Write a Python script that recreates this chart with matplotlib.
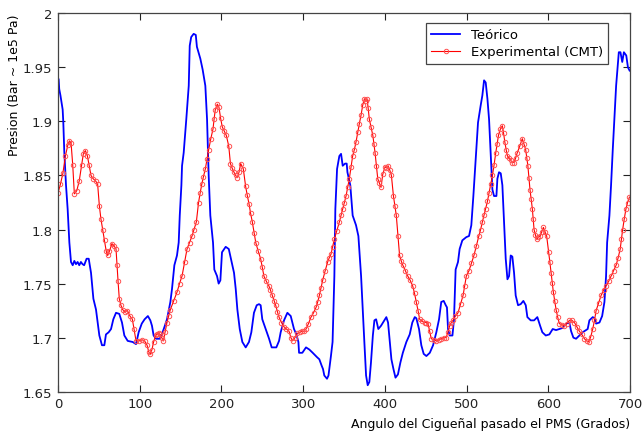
import matplotlib
matplotlib.use('Agg')
import matplotlib.pyplot as plt

# Teorico (blue)
teo_x = [0, 0.8, 1.5, 3, 5.7, 6.5, 7.7, 9.8, 11.8, 13.9, 15.9, 18, 20, 22, 24, 26, 28, 30, 32, 35,
         37.6, 40.4, 43.3, 46.5, 48.5, 50.6, 53.8, 56.7, 58.7, 62, 64.9, 67.7, 71, 75, 78.3, 81.2,
         85.3, 91.4, 95.5, 98.7, 102.5, 106, 110, 113, 115, 117, 120, 124.6, 127, 129.4, 133.4,
         137.5, 139.5, 142.4, 145.6, 147.7, 149, 151, 151.8, 153.8, 157, 160, 161.2, 163, 166,
         168.6, 170, 174.2, 177, 180.3, 182.4, 184.4, 186.4, 189.7, 191.3, 194.6, 196.6, 198.7,
         200.7, 205.2, 209, 212.5, 215.4, 217.5, 219.5, 222.4, 225.6, 229.7, 233.7, 236.6, 239.8,
         243.2, 246, 248, 250, 254.2, 258.3, 261.5, 267.2, 270.5, 272.5, 276.6, 280.7, 284.8,
         288.8, 291.7, 294.2, 295, 299, 303.5, 307.6, 311.7, 316.9, 319.8, 322.7, 324.3, 325.9,
         329.2, 331, 334, 336, 338.2, 339.4, 341.5, 344.3, 346.4, 348.4, 351.3, 353.3, 354.2,
         357.7, 360.6, 364.7, 367.6, 370.9, 372.9, 374.9, 377, 379, 381, 383, 385.3, 387.2,
         389.3, 392, 395.3, 399.4, 401.8, 403.9, 406, 408, 410.5, 413, 416, 419, 422, 426.3,
         430.4, 433.6, 436.6, 438.5, 441.8, 444.6, 447.5, 450.8, 455, 459, 463, 466.3, 469, 472,
         474.5, 476, 477.3, 479.3, 482.7, 484.6, 486.6, 489.5, 491.5, 494.8, 499.7, 503, 505.8,
         508.3, 511.2, 514, 517.3, 519.3, 521.4, 523.4, 525.5, 527.5, 529.6, 531.6, 533.6, 536.5,
         537.7, 539.7, 541.8, 543.8, 545.9, 547.9, 550, 552, 554, 556, 558.1, 560.1, 563, 566.2,
         569.5, 572.4, 574.4, 578.5, 582.6, 586.6, 590, 592.7, 596.9, 601.3, 605.4, 609.5, 613.5,
         617.6, 621.7, 625.8, 627.9, 630.7, 634, 638, 642.1, 646.2, 648.2, 650.3, 654.4, 656.5,
         658.5, 662.6, 665.9, 668.7, 670.7, 672, 674.8, 676.8, 678.9, 680.9, 683, 685, 686.3,
         688.3, 690.5, 692.5, 695.4, 697.5, 699.5]
teo_y = [1.940, 1.939, 1.930, 1.924, 1.911, 1.899, 1.872, 1.841, 1.819, 1.788, 1.770, 1.767, 1.771,
         1.768, 1.770, 1.767, 1.770, 1.768, 1.767, 1.773, 1.773, 1.760, 1.736, 1.726, 1.714, 1.702,
         1.693, 1.693, 1.703, 1.705, 1.708, 1.717, 1.723, 1.722, 1.714, 1.702, 1.697, 1.696, 1.694,
         1.705, 1.713, 1.717, 1.720, 1.716, 1.711, 1.702, 1.699, 1.699, 1.703, 1.708, 1.717, 1.733,
         1.745, 1.767, 1.776, 1.788, 1.813, 1.841, 1.859, 1.871, 1.902, 1.933, 1.970, 1.978, 1.981,
         1.980, 1.969, 1.958, 1.948, 1.933, 1.902, 1.850, 1.813, 1.788, 1.763, 1.757, 1.750, 1.753,
         1.779, 1.784, 1.782, 1.770, 1.760, 1.745, 1.726, 1.708, 1.696, 1.691, 1.696, 1.705, 1.723,
         1.730, 1.731, 1.730, 1.717, 1.708, 1.699, 1.691, 1.691, 1.697, 1.705, 1.716, 1.723, 1.720,
         1.708, 1.703, 1.696, 1.686, 1.686, 1.691, 1.689, 1.686, 1.682, 1.680, 1.674, 1.671, 1.665,
         1.662, 1.665, 1.683, 1.696, 1.757, 1.819, 1.856, 1.868, 1.870, 1.859, 1.861, 1.861, 1.853,
         1.841, 1.813, 1.804, 1.794, 1.757, 1.726, 1.696, 1.665, 1.656, 1.659, 1.677, 1.702, 1.716,
         1.717, 1.708, 1.711, 1.716, 1.719, 1.714, 1.696, 1.680, 1.671, 1.663, 1.666, 1.677, 1.686,
         1.696, 1.703, 1.714, 1.719, 1.718, 1.708, 1.693, 1.685, 1.683, 1.686, 1.693, 1.705, 1.717,
         1.733, 1.734, 1.730, 1.728, 1.708, 1.702, 1.702, 1.717, 1.763, 1.770, 1.782, 1.790, 1.793,
         1.794, 1.804, 1.831, 1.865, 1.899, 1.915, 1.924, 1.938, 1.936, 1.921, 1.902, 1.868, 1.837,
         1.831, 1.831, 1.847, 1.853, 1.852, 1.841, 1.807, 1.773, 1.754, 1.757, 1.776, 1.775, 1.760,
         1.739, 1.730, 1.731, 1.734, 1.730, 1.719, 1.716, 1.716, 1.719, 1.711, 1.705, 1.702, 1.703,
         1.708, 1.707, 1.708, 1.709, 1.713, 1.714, 1.706, 1.700, 1.699, 1.702, 1.705, 1.707, 1.708,
         1.716, 1.719, 1.718, 1.713, 1.714, 1.720, 1.733, 1.757, 1.788, 1.813, 1.841, 1.874, 1.902,
         1.933, 1.952, 1.964, 1.964, 1.955, 1.964, 1.961, 1.950, 1.947]

# Experimental (CMT) (red)
exp_x = [0, 3, 6, 9, 12, 14, 16, 18, 20, 23, 26, 29, 31, 33.5, 36, 38, 40.4, 43, 46, 48.5, 50.6,
         52.5, 54.7, 57, 59, 60.8, 63, 66, 68.5, 71, 72.2, 73.5, 75, 77, 79, 82, 85, 88, 91, 93,
         95.5, 99, 103, 106, 109, 111, 113, 115, 117, 119.5, 121, 123, 125, 127, 129, 131, 133.4,
         135.5, 137.5, 141.5, 145.6, 148.7, 151.8, 155, 157.9, 161, 164, 166.5, 169.3, 172, 174,
         176, 178, 180.3, 182.4, 184.4, 187, 189.7, 191, 192.5, 195, 197, 199, 201, 203.5, 206,
         209, 211, 213, 215.4, 217.5, 219.4, 221.5, 223.6, 226.8, 229.6, 231.5, 233.7, 235.7,
         237.8, 240, 242, 245, 248, 250, 252, 255, 258, 260, 262.3, 264.5, 266.4, 268.5, 270.5,
         273.5, 276.6, 279.5, 282.7, 285, 287, 290, 292.9, 296, 299, 301, 303.5, 306.5, 309.6,
         312.7, 315.8, 317.8, 319.8, 321.8, 323.9, 327, 330, 332, 334, 336, 338.2, 341.2, 344.3,
         346.3, 348.4, 350.5, 352.5, 354.5, 356.5, 358.6, 360.6, 362.7, 364.7, 366.8, 368.8,
         370.9, 372.9, 375, 376.6, 378.2, 379.6, 381, 383, 385.3, 386.7, 388, 389.7, 391.3,
         393.3, 395.3, 397.4, 400.2, 402, 404, 406, 408, 410.5, 412.3, 414, 416, 418, 420, 422,
         425, 428, 431, 434, 436.3, 438.5, 440.6, 442.6, 445.6, 448.7, 450.8, 452.8, 454.8,
         456.8, 460, 463, 466, 469, 472, 475, 477.2, 479.3, 481.4, 483.4, 486.4, 489.5, 492.6,
         495.7, 497.7, 499.7, 503, 506, 509, 512, 515, 517.2, 519.3, 521.3, 523.4, 525.5, 527.5,
         529.6, 531.6, 533.7, 535.7, 537.4, 539, 541.4, 543.8, 545.3, 546.8, 548.4, 550, 552,
         554, 556, 558, 560, 562, 565, 568.2, 570.3, 572.3, 573.7, 575, 576.3, 577.6, 579, 580.5,
         581.5, 582.6, 584.2, 585.8, 588, 590, 592, 594, 596, 598, 600.5, 601.9, 603.4, 604.8,
         606.2, 607.8, 609.5, 611.5, 613.5, 616.6, 619.7, 622.7, 625.8, 628.9, 632, 635, 638,
         641, 644.2, 647, 649.5, 652, 654.4, 656.5, 658.5, 661.5, 664.6, 667.6, 670.7, 673.8,
         676.8, 679.9, 683, 685.5, 688, 689.5, 691, 693, 695, 697, 699.3]
exp_y = [1.834, 1.842, 1.852, 1.868, 1.878, 1.882, 1.880, 1.860, 1.833, 1.836, 1.845, 1.860, 1.870,
         1.873, 1.868, 1.860, 1.850, 1.847, 1.845, 1.842, 1.822, 1.810, 1.800, 1.790, 1.780, 1.776,
         1.780, 1.787, 1.785, 1.782, 1.767, 1.752, 1.736, 1.730, 1.726, 1.724, 1.725, 1.720, 1.717,
         1.708, 1.697, 1.697, 1.698, 1.697, 1.693, 1.687, 1.685, 1.689, 1.696, 1.702, 1.703, 1.704,
         1.703, 1.700, 1.697, 1.705, 1.714, 1.720, 1.726, 1.734, 1.742, 1.750, 1.757, 1.770, 1.782,
         1.788, 1.794, 1.800, 1.807, 1.825, 1.834, 1.842, 1.849, 1.856, 1.865, 1.874, 1.884, 1.893,
         1.902, 1.911, 1.916, 1.913, 1.903, 1.895, 1.891, 1.887, 1.877, 1.861, 1.857, 1.853, 1.850,
         1.848, 1.853, 1.861, 1.856, 1.840, 1.832, 1.824, 1.815, 1.807, 1.797, 1.788, 1.780, 1.773,
         1.765, 1.757, 1.752, 1.748, 1.744, 1.739, 1.734, 1.730, 1.724, 1.719, 1.714, 1.710, 1.708,
         1.706, 1.700, 1.697, 1.700, 1.704, 1.705, 1.706, 1.706, 1.708, 1.713, 1.719, 1.723, 1.728,
         1.733, 1.739, 1.746, 1.753, 1.762, 1.770, 1.774, 1.777, 1.784, 1.791, 1.799, 1.807, 1.813,
         1.819, 1.825, 1.831, 1.839, 1.847, 1.858, 1.868, 1.874, 1.881, 1.890, 1.898, 1.906, 1.915,
         1.921, 1.919, 1.921, 1.912, 1.902, 1.895, 1.887, 1.879, 1.871, 1.859, 1.847, 1.843, 1.839,
         1.851, 1.858, 1.857, 1.859, 1.855, 1.850, 1.831, 1.822, 1.813, 1.794, 1.776, 1.771, 1.767,
         1.762, 1.757, 1.753, 1.748, 1.741, 1.733, 1.725, 1.717, 1.715, 1.714, 1.714, 1.713, 1.706,
         1.699, 1.698, 1.697, 1.698, 1.699, 1.700, 1.700, 1.705, 1.711, 1.714, 1.716, 1.720, 1.723,
         1.731, 1.739, 1.748, 1.757, 1.762, 1.769, 1.776, 1.785, 1.794, 1.800, 1.807, 1.813, 1.819,
         1.826, 1.834, 1.842, 1.850, 1.860, 1.871, 1.879, 1.887, 1.893, 1.896, 1.889, 1.881, 1.874,
         1.868, 1.866, 1.864, 1.862, 1.862, 1.866, 1.871, 1.877, 1.884, 1.879, 1.874, 1.866, 1.859,
         1.848, 1.837, 1.828, 1.819, 1.810, 1.800, 1.795, 1.791, 1.793, 1.794, 1.798, 1.802, 1.798,
         1.794, 1.779, 1.770, 1.760, 1.751, 1.742, 1.734, 1.726, 1.719, 1.713, 1.712, 1.711, 1.713,
         1.716, 1.716, 1.714, 1.710, 1.706, 1.703, 1.699, 1.697, 1.696, 1.701, 1.708, 1.716, 1.725,
         1.732, 1.739, 1.744, 1.748, 1.752, 1.757, 1.762, 1.767, 1.774, 1.782, 1.791, 1.800, 1.810,
         1.819, 1.825, 1.830]

fig = plt.figure(figsize=(6.43, 4.35), dpi=100)
ax = fig.add_axes([0.0902, 0.0972, 0.8896, 0.8699])

ax.plot(teo_x, teo_y, color='#0000ff', lw=1.3, label='Teórico')
ax.plot(exp_x, exp_y, color='#ff0000', lw=0.8, marker='o', ms=3.2, mfc='none',
        mec='#ff5050', mew=0.7, label='Experimental (CMT)')

ax.set_xlim(0, 700)
ax.set_ylim(1.65, 2.0)
ax.set_xticks(range(0, 701, 100))
ax.set_yticks([1.65, 1.7, 1.75, 1.8, 1.85, 1.9, 1.95, 2.0])
ax.set_yticklabels(['1.65', '1.7', '1.75', '1.8', '1.85', '1.9', '1.95', '2'])
ax.tick_params(direction='in', top=True, right=True, length=5, width=0.8,
               labelsize=9.5, colors='#222222', pad=4)
for s in ax.spines.values():
    s.set_color('#444444')
    s.set_linewidth(0.9)

ax.set_xlabel('Angulo del Cigueñal pasado el PMS (Grados)', fontsize=9, loc='right', labelpad=5)
ax.set_ylabel('Presion (Bar ~ 1e5 Pa)', fontsize=9, loc='top', labelpad=1)

leg = ax.legend(loc='upper right', bbox_to_anchor=(0.962, 0.974), borderaxespad=0,
                fontsize=9.5, fancybox=False, framealpha=1, edgecolor='#444444',
                handlelength=2.2, borderpad=0.4, labelspacing=0.3)
leg.get_frame().set_linewidth(0.9)

fig.savefig('out.png', dpi=100)
